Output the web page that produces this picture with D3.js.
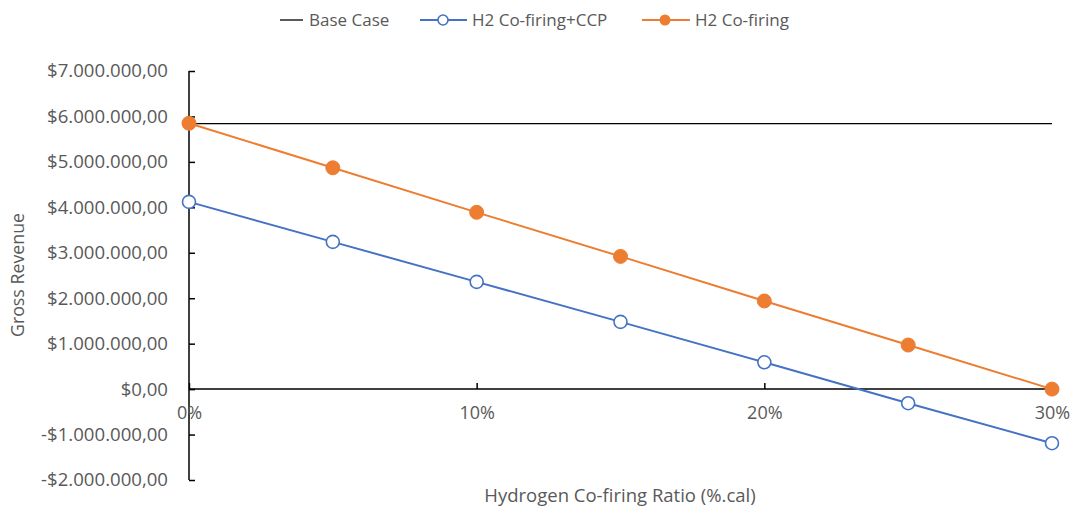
<!DOCTYPE html>
<html>
<head>
<meta charset="utf-8">
<script src="https://cdn.jsdelivr.net/npm/d3@7"></script>
<style>
  html, body { margin: 0; padding: 0; background: #fff; }
  svg { display: block; font-family: "Open Sans", sans-serif; }
</style>
</head>
<body>
<svg id="chart" width="1075" height="509"></svg>
<script>
// Hydrogen co-firing ratio (fraction of calorific input)
const ratios = [0, 0.05, 0.10, 0.15, 0.20, 0.25, 0.30];
// Gross revenue, USD
const baseCase = 5840000;
const cofiringCCP = [4120000, 3240000, 2360000, 1480000, 590000, -310000, -1190000];
const cofiring = [5850000, 4870000, 3890000, 2920000, 1940000, 970000, 0];
const xTicks = [0, 0.10, 0.20, 0.30];
const yTicks = [-2000000, -1000000, 0, 1000000, 2000000, 3000000, 4000000, 5000000, 6000000, 7000000];

const svg = d3.select("#chart");
const textColor = "#595959";
const blue = "#4472C4", orange = "#ED7D31";

const x = d3.scaleLinear().domain([0, 0.30]).range([189, 1052]);
const y = d3.scaleLinear().domain([-2000000, 7000000]).range([480, 71]);

// number format: $1.000.000,00
const loc = d3.formatLocale({decimal: ",", thousands: ".", grouping: [3], currency: ["$", ""]});
const fmtMoney = v => (v < 0 ? "-" : "") + loc.format("$,.2f")(Math.abs(v));

// y axis
const yAxis = svg.append("g").attr("transform", `translate(${x(0)},0)`)
  .call(d3.axisLeft(y).tickValues(yTicks).tickSize(-6).tickPadding(21).tickFormat(fmtMoney));
yAxis.select(".domain").attr("stroke", "#000").attr("stroke-width", 1.5).attr("d", `M-0,${y(7000000)}V${y(-2000000)}`);
yAxis.selectAll(".tick line").attr("stroke", "#000").attr("stroke-width", 1.5);
yAxis.selectAll(".tick text").attr("fill", textColor).style("font-size", "18.6px").style("font-family", "'Open Sans', sans-serif");

// x axis crossing at zero
const xAxis = svg.append("g").attr("transform", `translate(0,${y(0)})`)
  .call(d3.axisBottom(x).tickValues(xTicks).tickSize(-6).tickPadding(17).tickFormat(d3.format(".0%")));
xAxis.select(".domain").attr("stroke", "#000").attr("stroke-width", 1.5).attr("d", `M${x(0)},0H${x(0.30)}`);
xAxis.selectAll(".tick line").attr("stroke", "#000").attr("stroke-width", 1.5);
xAxis.selectAll(".tick text").attr("fill", textColor).style("font-size", "18px").style("font-family", "'Open Sans', sans-serif");

// Base case line
svg.append("line")
  .attr("x1", x(0)).attr("x2", x(0.30))
  .attr("y1", y(baseCase)).attr("y2", y(baseCase))
  .attr("stroke", "#000").attr("stroke-width", 1.3);

const line = d3.line().x(d => x(d[0])).y(d => y(d[1]));

// H2 Co-firing+CCP
const ccpData = ratios.map((r, i) => [r, cofiringCCP[i]]);
svg.append("path").datum(ccpData).attr("d", line)
  .attr("fill", "none").attr("stroke", blue).attr("stroke-width", 2);
svg.append("g").selectAll("circle").data(ccpData).join("circle")
  .attr("cx", d => x(d[0])).attr("cy", d => y(d[1])).attr("r", 6.5)
  .attr("fill", "#fff").attr("stroke", blue).attr("stroke-width", 1.6);

// H2 Co-firing
const cfData = ratios.map((r, i) => [r, cofiring[i]]);
svg.append("path").datum(cfData).attr("d", line)
  .attr("fill", "none").attr("stroke", orange).attr("stroke-width", 2);
svg.append("g").selectAll("circle").data(cfData).join("circle")
  .attr("cx", d => x(d[0])).attr("cy", d => y(d[1])).attr("r", 7)
  .attr("fill", orange).attr("stroke", orange).attr("stroke-width", 1);

// axis titles
svg.append("text").attr("x", 620).attr("y", 502).attr("text-anchor", "middle")
  .attr("fill", textColor).style("font-size", "18.5px").text("Hydrogen Co-firing Ratio (%.cal)");
svg.append("text").attr("transform", "translate(24,275) rotate(-90)").attr("text-anchor", "middle")
  .attr("fill", textColor).style("font-size", "17.8px").text("Gross Revenue");

// legend
const legY = 20;
const leg = svg.append("g");
leg.append("line").attr("x1", 280).attr("x2", 303).attr("y1", legY).attr("y2", legY)
  .attr("stroke", "#000").attr("stroke-width", 1.3);
leg.append("text").attr("x", 309).attr("y", legY + 6).attr("fill", textColor).style("font-size", "17px").text("Base Case");
leg.append("line").attr("x1", 420).attr("x2", 467).attr("y1", legY).attr("y2", legY)
  .attr("stroke", blue).attr("stroke-width", 2);
leg.append("circle").attr("cx", 443).attr("cy", legY).attr("r", 5)
  .attr("fill", "#fff").attr("stroke", blue).attr("stroke-width", 1.6);
leg.append("text").attr("x", 472).attr("y", legY + 6).attr("fill", textColor).style("font-size", "17px").text("H2 Co-firing+CCP");
leg.append("line").attr("x1", 642).attr("x2", 690).attr("y1", legY).attr("y2", legY)
  .attr("stroke", orange).attr("stroke-width", 2);
leg.append("circle").attr("cx", 665).attr("cy", legY).attr("r", 5.5).attr("fill", orange);
leg.append("text").attr("x", 695).attr("y", legY + 6).attr("fill", textColor).style("font-size", "17px").text("H2 Co-firing");
</script>
</body>
</html>
